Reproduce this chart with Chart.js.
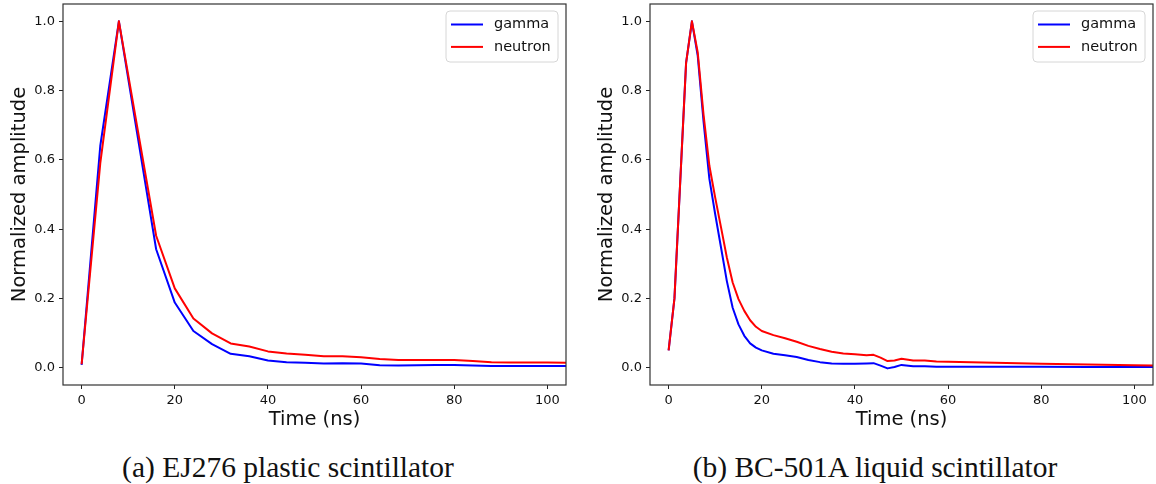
<!DOCTYPE html>
<html>
<head>
<meta charset="utf-8">
<script src="https://cdn.jsdelivr.net/npm/chart.js@4.4.1/dist/chart.umd.min.js"></script>
<style>
  body { margin: 0; background: #fff; width: 1156px; height: 484px; overflow: hidden; position: relative; }
  canvas { position: absolute; top: 0; }
  #chartA { left: 0; }
  #chartB { left: 587px; }
  .caption {
    position: absolute; top: 452px; width: 576px; text-align: center;
    font-family: "Liberation Serif", serif; font-size: 29.5px; line-height: 30px; color: #111;
  }
</style>
</head>
<body>
<canvas id="chartA" width="578" height="440"></canvas>
<canvas id="chartB" width="569" height="440"></canvas>
<div class="caption" style="left:0">(a) EJ276 plastic scintillator</div>
<div class="caption" style="left:587px">(b) BC-501A liquid scintillator</div>
<script>
// EJ276 plastic (4 ns sampling)
const ej276Time = [0, 4, 8, 12, 16, 20, 24, 28, 32, 36, 40, 44, 48, 52, 56, 60, 64, 68, 72, 76, 80, 84, 88, 92, 96, 100, 104];
const ej276Gamma = [0.008, 0.64, 1.0, 0.67, 0.342, 0.188, 0.106, 0.068, 0.040, 0.033, 0.021, 0.016, 0.014, 0.012, 0.013, 0.012, 0.007, 0.006, 0.007, 0.008, 0.008, 0.006, 0.005, 0.005, 0.005, 0.005, 0.005];
const ej276Neutron = [0.01, 0.59, 1.0, 0.69, 0.381, 0.229, 0.142, 0.099, 0.070, 0.061, 0.047, 0.041, 0.037, 0.033, 0.033, 0.030, 0.025, 0.022, 0.022, 0.022, 0.022, 0.019, 0.016, 0.015, 0.015, 0.015, 0.014];

// BC-501A liquid
const bc501Time = [0, 1.25, 2.5, 3.75, 5, 6.25, 7.5, 8.75, 10, 11.25, 12.5, 13.75, 15, 16.25, 17.5, 18.75, 20, 22.5, 25, 27.5, 30, 32.5, 35, 37.5, 40, 42.5, 44, 45.5, 47, 48.5, 50, 52.5, 55, 57.5, 60, 70, 80, 90, 100, 105];
const bc501Gamma = [0.05, 0.20, 0.54, 0.88, 1.0, 0.90, 0.71, 0.545, 0.443, 0.347, 0.25, 0.173, 0.125, 0.092, 0.070, 0.058, 0.050, 0.040, 0.036, 0.031, 0.022, 0.016, 0.012, 0.011, 0.011, 0.012, 0.013, 0.006, -0.002, 0.002, 0.008, 0.004, 0.004, 0.003, 0.003, 0.003, 0.003, 0.002, 0.002, 0.002];
const bc501Neutron = [0.05, 0.20, 0.54, 0.88, 1.0, 0.91, 0.73, 0.583, 0.491, 0.405, 0.318, 0.246, 0.198, 0.164, 0.137, 0.118, 0.106, 0.094, 0.085, 0.075, 0.063, 0.054, 0.046, 0.041, 0.039, 0.036, 0.037, 0.029, 0.019, 0.021, 0.026, 0.021, 0.021, 0.018, 0.017, 0.014, 0.011, 0.009, 0.007, 0.006];

const seriesNames = ['gamma', 'neutron'];
const seriesColors = ['#0000ff', '#ff0000'];

const tickFont = { family: 'DejaVu Sans', size: 13 };
const titleFont = { family: 'DejaVu Sans', size: 19.5 };

// matplotlib-like box around the axes + legend inside top right
const framePlugin = {
  id: 'frame',
  afterDraw(chart) {
    const { ctx, chartArea: a } = chart;
    ctx.save();
    ctx.strokeStyle = '#333';
    ctx.lineWidth = 1.2;
    ctx.strokeRect(a.left, a.top, a.right - a.left, a.bottom - a.top);

    const w = 112, h = 51;
    const x = a.right - 8 - w, y = a.top + 7;
    ctx.beginPath();
    ctx.roundRect(x, y, w, h, 4);
    ctx.fillStyle = 'rgba(255,255,255,0.8)';
    ctx.fill();
    ctx.strokeStyle = '#d6d6d6';
    ctx.lineWidth = 1;
    ctx.stroke();

    ctx.font = '14.5px "DejaVu Sans"';
    ctx.textBaseline = 'middle';
    chart.data.datasets.forEach((ds, i) => {
      const ly = y + 13.5 + i * 22.4;
      ctx.strokeStyle = ds.borderColor;
      ctx.lineWidth = 2;
      ctx.beginPath();
      ctx.moveTo(x + 5, ly);
      ctx.lineTo(x + 37, ly);
      ctx.stroke();
      ctx.fillStyle = '#111';
      ctx.fillText(ds.label, x + 48, ly);
    });
    ctx.restore();
  }
};

function makeChart(id, times, gamma, neutron, padRight) {
  const ctx = document.getElementById(id).getContext('2d');
  const values = [gamma, neutron];
  return new Chart(ctx, {
    type: 'line',
    data: {
      datasets: seriesNames.map((name, i) => ({
        label: name,
        data: times.map((t, k) => ({ x: t, y: values[i][k] })),
        borderColor: seriesColors[i],
        borderWidth: 2,
        pointRadius: 0,
        tension: 0,
        fill: false,
        borderJoinStyle: 'round',
        order: i === 0 ? 1 : 0
      }))
    },
    options: {
      responsive: false,
      animation: false,
      devicePixelRatio: 1,
      layout: { padding: { left: 0, top: 4, right: padRight, bottom: 0 } },
      plugins: { legend: { display: false }, tooltip: { enabled: false } },
      scales: {
        x: {
          type: 'linear',
          min: -4,
          max: 104,
          afterFit: s => { s.height = 55; s.paddingLeft = 0; s.paddingRight = 0; },
          border: { display: false },
          grid: { drawOnChartArea: false, drawTicks: true, tickLength: 4, tickColor: '#222' },
          ticks: { stepSize: 20, includeBounds: false, font: tickFont, color: '#111', padding: 4, maxRotation: 0 },
          title: { display: true, text: 'Time (ns)', font: titleFont, color: '#111', padding: { top: 0, bottom: 8 } }
        },
        y: {
          min: -0.05,
          max: 1.05,
          afterFit: s => { s.width = 63; s.paddingTop = 0; s.paddingBottom = 0; },
          border: { display: false },
          grid: { drawOnChartArea: false, drawTicks: true, tickLength: 4, tickColor: '#222' },
          ticks: { stepSize: 0.2, includeBounds: false, font: tickFont, color: '#111', padding: 4,
                   callback: v => v.toFixed(1) },
          title: { display: true, text: 'Normalized amplitude', font: titleFont, color: '#111', padding: { top: 8, bottom: 0 } }
        }
      }
    },
    plugins: [framePlugin]
  });
}

makeChart('chartA', ej276Time, ej276Gamma, ej276Neutron, 12);
makeChart('chartB', bc501Time, bc501Gamma, bc501Neutron, 3);
</script>
</body>
</html>
